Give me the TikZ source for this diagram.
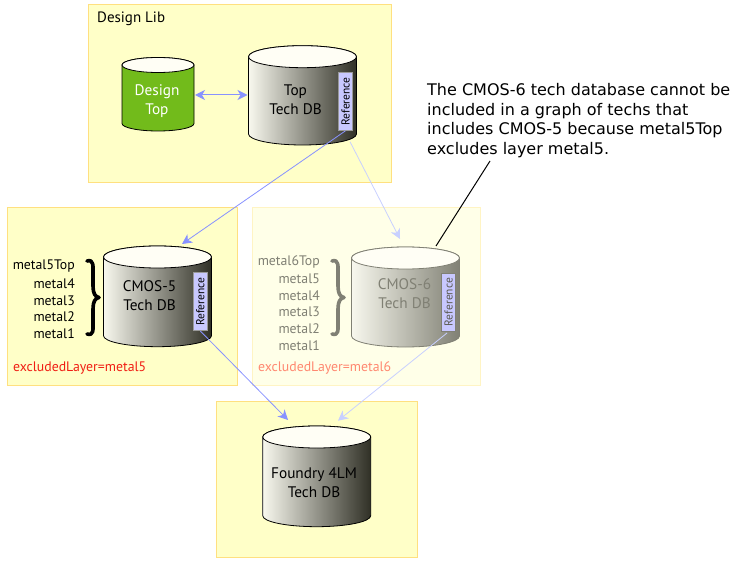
\documentclass[tikz,border=0pt]{standalone}
\usepackage{fontspec}
\setmainfont{PT Sans}
\newfontfamily\notefont{DejaVu Sans}
\usetikzlibrary{arrows.meta}
\definecolor{libfill}{RGB}{255,255,200}
\definecolor{libedge}{RGB}{255,224,128}
\definecolor{paleedge}{RGB}{255,244,196}
\definecolor{palefill}{RGB}{255,255,232}
\definecolor{linkblue}{RGB}{136,146,255}
\definecolor{linkpale}{RGB}{200,208,255}
\definecolor{refblue}{RGB}{200,200,255}
\definecolor{fadegray}{RGB}{128,128,116}
\definecolor{designgreen}{RGB}{114,187,27}
\definecolor{excludered}{RGB}{240,30,20}
\definecolor{excludepale}{RGB}{255,136,112}
\definecolor{drumlight}{RGB}{248,248,238}
\definecolor{drummid}{RGB}{150,150,136}
\definecolor{drumdark}{RGB}{48,48,38}
\definecolor{drumfade}{RGB}{190,190,178}
\tikzset{
  libbox/.style={draw=libedge,fill=libfill,line width=1pt},
  palebox/.style={draw=paleedge,fill=palefill,line width=1pt},
  dbtext/.style={align=center,font=\fontsize{15.3}{19}\selectfont,inner sep=0pt},
  reftag/.style={rotate=90,draw=#1,fill=refblue,line width=0.6pt,minimum width=58pt,minimum height=14pt,inner sep=0pt,font=\fontsize{11.5}{13}\selectfont},
  layertext/.style={anchor=east,inner sep=0pt,font=\fontsize{13.8}{17}\selectfont},
  uplink/.style={linkblue,line width=0.8pt,-{Stealth[length=10pt,width=10pt,inset=3pt]}},
  palelink/.style={linkpale,line width=0.8pt,-{Stealth[length=10pt,width=10pt,inset=3pt]}},
  darkdrum/.style={left color=drumlight,middle color=drummid,right color=drumdark},
  fadedrum/.style={left color=drumlight,middle color=drumfade,right color=fadegray},
}
% #1 centre x, #2 top y, #3 bottom y, #4 half width, #5 half height of the ends, #6 shading, #7 outline
\newcommand\drum[7]{
  \def\drumpath{(#1-#4,#2) -- (#1-#4,#3) arc (180:0:#4 and #5) -- (#1+#4,#2) arc (0:-180:#4 and #5) -- cycle}
  \path[#6] \drumpath;
  \draw[#7,line width=0.8pt] \drumpath;
  \draw[#7,line width=0.8pt,fill=white!96!yellow] (#1,#2) ellipse (#4 and #5);
}
\newcommand\curlybrace[3]{
  \draw[#3,line width=3.6pt,line cap=round,line join=round]
    (#1-6,261) .. controls (#1+1,259) and (#1,266) .. (#1,274) -- (#1,286)
    .. controls (#1,293) and (#1+2,297) .. (#1+6,#2)
    .. controls (#1+2,298) and (#1,302) .. (#1,309) -- (#1,321)
    .. controls (#1,330) and (#1+1,336) .. (#1-6,334);
}
\begin{document}
\begin{tikzpicture}[x=1pt,y=-1pt]
  \useasboundingbox (0,0) rectangle (734,567);

  \draw[libbox] (88.5,4.5) rectangle (391.5,183);
  \draw[libbox] (7.5,207) rectangle (237.5,385);
  \draw[palebox] (252.5,207) rectangle (480.5,385.5);
  \draw[libbox] (216.5,401) rectangle (417.5,557.5);

  \node[anchor=west,inner sep=0pt,font=\fontsize{15}{17}\selectfont] (designlib) at (97,18.5) {Design Lib};

  \drum{158}{65}{123.5}{36}{7.5}{fill=designgreen}{black}
  \node[dbtext,text=white] (designtop) at (157,101) {Design\\Top};

  \drum{302.5}{56.7}{134}{54}{11}{darkdrum}{black}
  \node[dbtext] (topdb) at (295.5,99.5) {Top\\Tech DB};
  \node[reftag=black!40] (topref) at (345.5,101.5) {Reference};

  \drum{157.5}{257}{335.7}{54}{11}{darkdrum}{black}
  \node[dbtext] (cmosfive) at (149.5,295.5) {CMOS-5\\Tech DB};
  \node[reftag=black!40] (fiveref) at (200.3,301.7) {Reference};

  \drum{405.5}{258}{336}{54}{11}{fadedrum}{fadegray}
  \node[dbtext,text=fadegray] (cmossix) at (404.5,293.5) {CMOS-6\\Tech DB};
  \node[reftag=fadegray,text=fadegray!70!black] (sixref) at (448.7,302.2) {Reference};

  \drum{316.7}{437}{515.7}{54}{11}{darkdrum}{black}
  \node[dbtext] (foundry) at (314,483) {Foundry 4LM\\Tech DB};

  \foreach \y/\name in {266.5/metal5Top,283.5/metal4,300.5/metal3,316.5/metal2,333.5/metal1}
    \node[layertext] (five\name) at (75,\y) {\name};
  \foreach \y/\name in {262/metal6Top,278.5/metal5,295.5/metal4,312/metal3,328.5/metal2,346/metal1}
    \node[layertext,text=fadegray] (six\name) at (320,\y) {\name};

  \curlybrace{93}{297.5}{black}
  \curlybrace{338}{297.5}{fadegray}

  \node[anchor=west,inner sep=0pt,text=excludered,font=\fontsize{13.8}{17}\selectfont] (excludefive) at (13,368.5) {excludedLayer=metal5};
  \node[anchor=west,inner sep=0pt,text=excludepale,font=\fontsize{13.8}{17}\selectfont] (excludesix) at (258,368.5) {excludedLayer=metal6};

  \node[anchor=north west,align=left,inner sep=0pt,font=\notefont\fontsize{16}{19.7}\selectfont] (note) at (427,83) {The CMOS-6 tech database cannot be\\included in a graph of techs that\\includes CMOS-5 because metal5Top\\excludes layer metal5.};

  \coordinate (fivetop) at (182,244);
  \coordinate (sixtop) at (400,239);
  \coordinate (foundryleft) at (288,420);
  \coordinate (foundryright) at (338,420.7);
  \coordinate (noteend) at (490,161);
  \coordinate (sixedge) at (436,246);
  \coordinate (topout) at (350,141.7);
  \coordinate (sixout) at (447,333);

  \draw[linkblue,line width=1pt,{Stealth[length=10pt,width=10pt,inset=3pt]}-{Stealth[length=10pt,width=10pt,inset=3pt]}] (195,95) -- (247.5,95);
  \draw[uplink] (topref.west) -- (fivetop);
  \draw[palelink] (topout) -- (sixtop);
  \draw[uplink] (fiveref.west) -- (foundryleft);
  \draw[palelink] (sixout) -- (foundryright);
  \draw[line width=1pt] (noteend) -- (sixedge);
\end{tikzpicture}
\end{document}
